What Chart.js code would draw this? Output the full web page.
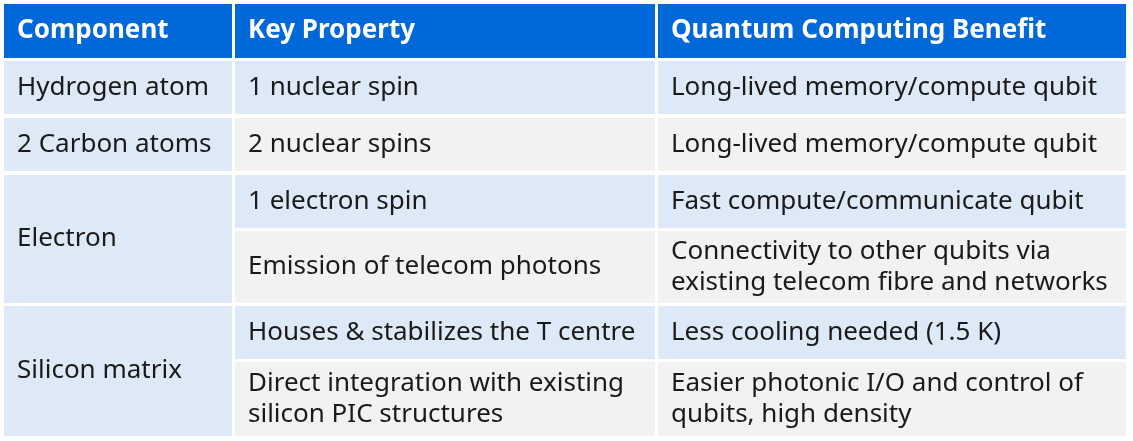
<!DOCTYPE html><html><head><meta charset="utf-8">
<script src="https://cdn.jsdelivr.net/npm/chart.js@4/dist/chart.umd.min.js"></script>
<style>html,body{margin:0;background:#fff}#w{width:1133px;height:441px}</style></head><body>
<div id="w"><canvas id="c"></canvas></div>
<script>
const headers = ["Component","Key Property","Quantum Computing Benefit"];
const components = ["Hydrogen atom","2 Carbon atoms","Electron","Silicon matrix"];
const componentSpans = [1,1,2,2];
const properties = [["1 nuclear spin"],["2 nuclear spins"],["1 electron spin"],["Emission of telecom photons"],["Houses & stabilizes the T centre"],["Direct integration with existing","silicon PIC structures"]];
const benefits = [["Long-lived memory/compute qubit"],["Long-lived memory/compute qubit"],["Fast compute/communicate qubit"],["Connectivity to other qubits via","existing telecom fibre and networks"],["Less cooling needed (1.5 K)"],["Easier photonic I/O and control of","qubits, high density"]];
const rowShades = ["b","g","b","g","b","g"];

const colX=[4,235,658,1129];
const headerY=[4,58];
const rowY=[[61,114],[118,171],[175,228],[231,303],[306,359],[362,436]];
const BLUE="#dde9f6", GRAY="#f2f2f2", HEAD="#0068d9";
const FONT='"Noto Sans", Inter, sans-serif';

const tablePlugin={id:'table',afterDraw(chart){
  const ctx=chart.ctx; ctx.save();
  ctx.fillStyle=HEAD;
  for(let i=0;i<3;i++) ctx.fillRect(colX[i],headerY[0],colX[i+1]-colX[i]-3,headerY[1]-headerY[0]);
  ctx.fillStyle="#fff"; ctx.font='bold 26px '+FONT; ctx.textBaseline='middle';
  headers.forEach((h,i)=>ctx.fillText(h,colX[i]+13,(headerY[0]+headerY[1])/2));
  ctx.font='26px '+FONT;
  let r=0;
  components.forEach((c,ci)=>{
    const span=componentSpans[ci]; const y0=rowY[r][0], y1=rowY[r+span-1][1];
    ctx.fillStyle=BLUE; ctx.fillRect(colX[0],y0,colX[1]-colX[0]-3,y1-y0);
    ctx.fillStyle="#1a1a1a"; ctx.fillText(c,colX[0]+13,(y0+y1)/2);
    for(let k=0;k<span;k++){
      const rr=r+k, a=rowY[rr][0], b=rowY[rr][1];
      const bg=rowShades[rr]==="b"?BLUE:GRAY;
      [properties[rr],benefits[rr]].forEach((lines,j)=>{
        ctx.fillStyle=bg; ctx.fillRect(colX[j+1],a,colX[j+2]-colX[j+1]-3,b-a);
        ctx.fillStyle="#1a1a1a";
        const lh=31, mid=(a+b)/2-(lines.length-1)*lh/2;
        lines.forEach((t,li)=>ctx.fillText(t,colX[j+1]+13,mid+li*lh));
      });
    }
    r+=span;
  });
  ctx.restore();
}};
new Chart(document.getElementById('c'),{type:'bar',data:{labels:[],datasets:[]},
 options:{responsive:true,maintainAspectRatio:false,animation:false,layout:{padding:0},
 plugins:{legend:{display:false},tooltip:{enabled:false}},
 scales:{x:{display:false},y:{display:false}}},plugins:[tablePlugin]});
</script></body></html>
